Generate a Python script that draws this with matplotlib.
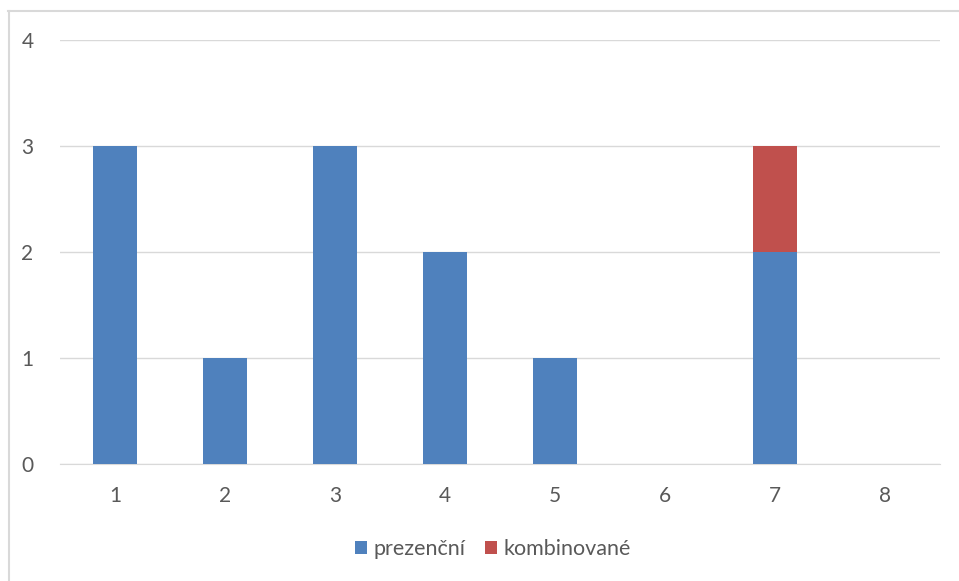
import matplotlib
matplotlib.use("Agg")
import matplotlib.pyplot as plt
from matplotlib.lines import Line2D

categories = ["1", "2", "3", "4", "5", "6", "7", "8"]
prezencni = [3, 1, 3, 2, 1, 0, 2, 0]
kombinovane = [0, 0, 0, 0, 0, 0, 1, 0]
y_ticks = [0, 1, 2, 3, 4]

plt.rcParams['font.family'] = ['Lato', 'DejaVu Sans']
W, H = 959, 581
fig = plt.figure(figsize=(W/100, H/100), dpi=100)
ax = fig.add_axes([60/W, (H-464)/H, 880/W, 424/H])

x = list(range(1, len(categories)+1))
ax.bar(x, prezencni, width=0.4, color="#4F81BD", label="prezenční", zorder=3)
ax.bar(x, kombinovane, width=0.4, bottom=prezencni, color="#C0504D", label="kombinované", zorder=3)

ax.set_xlim(0.5, 8.5)
ax.set_ylim(0, 4)
ax.set_yticks(y_ticks)
ax.set_xticks(x)
ax.set_xticklabels(categories)
ax.grid(axis='y', color="#D9D9D9", linewidth=1, zorder=0)
for s in ax.spines.values():
    s.set_visible(False)
ax.spines['bottom'].set_visible(True)
ax.spines['bottom'].set_color("#D9D9D9")
ax.tick_params(length=0, labelsize=15, colors="#595959")
ax.tick_params(axis='y', pad=19)
ax.tick_params(axis='x', pad=16)

leg = fig.legend(loc='center', bbox_to_anchor=(493/W, (H-549)/H), ncol=2, frameon=False,
                 fontsize=15.5, handlelength=0.55, handleheight=0.55, handletextpad=0.3, columnspacing=0.9)
for t in leg.get_texts():
    t.set_color("#595959")

fig.add_artist(Line2D([9/W, 9/W], [0, (H-11)/H], transform=fig.transFigure, color="#D9D9D9", linewidth=1.5))
fig.add_artist(Line2D([8/W, 1], [(H-11)/H, (H-11)/H], transform=fig.transFigure, color="#D9D9D9", linewidth=1.5))
fig.savefig("out.png", dpi=100)
